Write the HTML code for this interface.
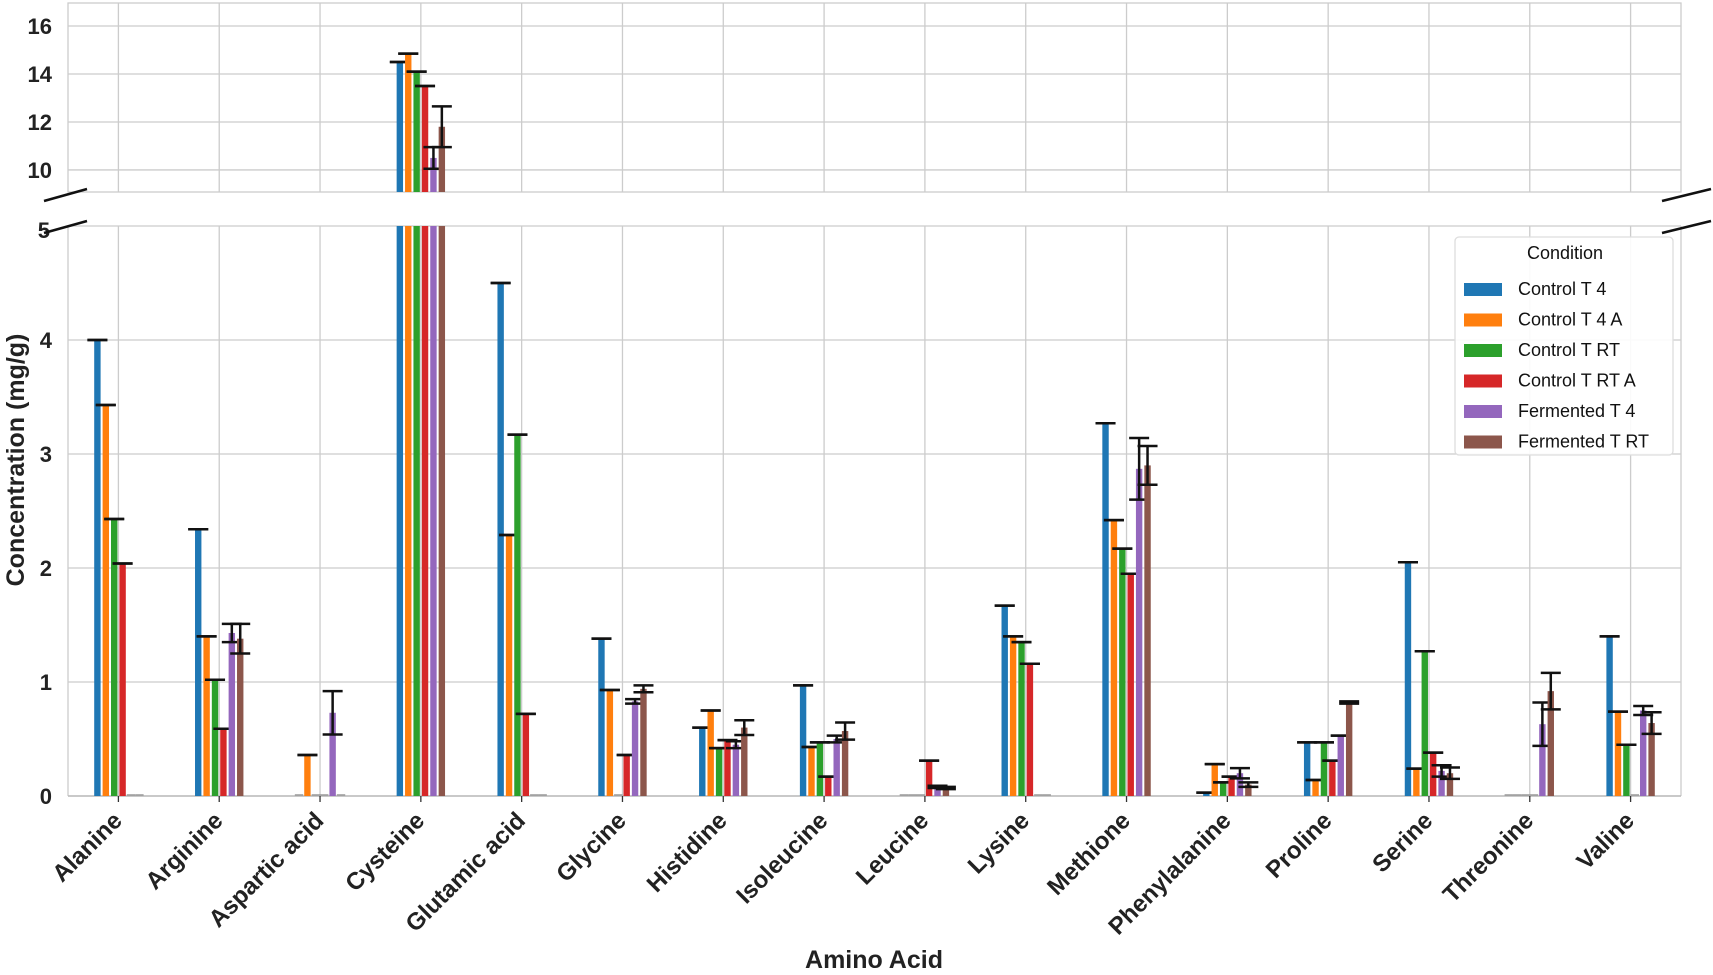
<!DOCTYPE html>
<html><head><meta charset="utf-8"><style>
html,body{margin:0;padding:0;background:#fff;}
svg{display:block;font-family:"Liberation Sans",Arial,sans-serif;}
</style></head><body>
<svg id="chart" width="1713" height="975" viewBox="0 0 1713 975" xmlns="http://www.w3.org/2000/svg"></svg>
<script>
const categories=["Alanine","Arginine","Aspartic acid","Cysteine","Glutamic acid","Glycine","Histidine","Isoleucine","Leucine","Lysine","Methione","Phenylalanine","Proline","Serine","Threonine","Valine"];
const seriesNames=["Control T 4","Control T 4 A","Control T RT","Control T RT A","Fermented T 4","Fermented T RT"];
const seriesColors=["#1f77b4","#ff7f0e","#2ca02c","#d62728","#9467bd","#8c564b"];
const controlT4=[4.0,2.34,0,14.5,4.5,1.38,0.60,0.97,0,1.67,3.27,0.03,0.47,2.05,0,1.40];
const controlT4A=[3.43,1.40,0.36,14.85,2.29,0.93,0.75,0.43,0,1.40,2.42,0.28,0.14,0.24,0,0.74];
const controlTRT=[2.43,1.02,0,14.1,3.17,0,0.42,0.47,0,1.35,2.17,0.12,0.47,1.27,0,0.45];
const controlTRTA=[2.04,0.59,0,13.5,0.72,0.36,0.49,0.17,0.31,1.16,1.95,0.17,0.31,0.38,0,0];
const fermentedT4=[0,1.43,0.73,10.5,0,0.83,0.45,0.50,0.08,0,2.87,0.20,0.53,0.22,0.63,0.75];
const fermentedTRT=[0,1.38,0,11.8,0,0.94,0.60,0.57,0.07,0,2.90,0.10,0.82,0.20,0.92,0.64];
const fermentedT4Err=[0,0.08,0.19,0.45,0,0.02,0.03,0.03,0.01,0,0.27,0.045,0,0.05,0.19,0.04];
const fermentedTRTErr=[0,0.13,0,0.85,0,0.03,0.065,0.075,0.01,0,0.17,0.02,0.01,0.05,0.16,0.095];
const yTicksTop=[10,12,14,16];
const yTicksBottom=[0,1,2,3,4,5];
const series=[controlT4,controlT4A,controlTRT,controlTRTA,fermentedT4,fermentedTRT];
const errs=[null,null,null,null,fermentedT4Err,fermentedTRTErr];

const NS="http://www.w3.org/2000/svg";
const svg=document.getElementById('chart');
function el(tag,attrs,parent){const e=document.createElementNS(NS,tag);for(const k in attrs)e.setAttribute(k,attrs[k]);(parent||svg).appendChild(e);return e;}
const L=68,R=1681;
const topP={y0:3,y1:192,min:9.08,max:16.96};
const botP={y0:226,y1:796,min:0,max:5};
const unit=(R-L)/categories.length;
function x(i){return L+unit*(i+0.5);}
function yTop(v){return topP.y1-(v-topP.min)/(topP.max-topP.min)*(topP.y1-topP.y0);}
function yBot(v){return botP.y1-(v-botP.min)/(botP.max-botP.min)*(botP.y1-botP.y0);}
const grid="#cccccc";
[topP,botP].forEach((p,pi)=>{
  for(let i=0;i<categories.length;i++){
    const g=el('line',{x1:x(i),x2:x(i),y1:p.y0,y2:p.y1,stroke:grid,'stroke-width':1.3});
    
    
  }
});
yTicksTop.forEach(t=>{
  const g=el('line',{x1:L,x2:R,y1:yTop(t),y2:yTop(t),stroke:grid,'stroke-width':1.3});
  
  
  const tx=el('text',{x:52,y:yTop(t)+8,'text-anchor':'end','font-size':22,'font-weight':'bold',fill:'#222'});
  tx.textContent=t;
  
  
});
yTicksBottom.forEach(t=>{
  const g=el('line',{x1:L,x2:R,y1:yBot(t),y2:yBot(t),stroke:grid,'stroke-width':1.3});
  
  
  const tx=el('text',{x:t==5?50:52,y:yBot(t)+8+(t==5?4:0),'text-anchor':'end','font-size':22,'font-weight':'bold',fill:'#222'});
  tx.textContent=t;
  
  
});
el('rect',{x:L,y:topP.y0,width:R-L,height:topP.y1-topP.y0,fill:'none',stroke:grid,'stroke-width':1.3});
el('line',{x1:L,x2:L,y1:botP.y0,y2:botP.y1,stroke:grid,'stroke-width':1.3});
el('line',{x1:R,x2:R,y1:botP.y0,y2:botP.y1,stroke:grid,'stroke-width':1.3});
el('line',{x1:L,x2:R,y1:botP.y1,y2:botP.y1,stroke:'#bbb','stroke-width':1.5});
const groupW=unit*0.5, bw=groupW/6;
series.forEach((vals,s)=>{
  vals.forEach((v,i)=>{
    const bx=x(i)-groupW/2+s*bw;
    const cx=bx+bw/2;
    const vb=Math.min(v,botP.max);
    const hb=yBot(0)-yBot(vb);
    const r=el('rect',{x:bx+1,y:yBot(vb),width:bw-2,height:Math.max(hb,0),fill:seriesColors[s]});
    
    
    if(v===0){el('line',{x1:bx,x2:bx+bw,y1:yBot(0)-1,y2:yBot(0)-1,stroke:'#999','stroke-width':1.5});}
    if(v>topP.min){
      const r2=el('rect',{x:bx+1,y:yTop(v),width:bw-2,height:topP.y1-yTop(v),fill:seriesColors[s]});
      
      
    }
    const e=errs[s]?errs[s][i]:0;
    if(v>0){
      const big=v>botP.max;
      const yf=big?yTop:yBot;
      const lo=v-e, hi=v+e;
      if(e>0) el('line',{x1:cx,x2:cx,y1:yf(lo),y2:yf(hi),stroke:'#111','stroke-width':2.5});
      [lo,hi].forEach(q=>{
        const c=el('line',{x1:cx-10,x2:cx+10,y1:yf(q),y2:yf(q),stroke:'#111','stroke-width':2.5});
        
        
      });
    }
  });
});
categories.forEach((c,i)=>{
  el('line',{x1:x(i),x2:x(i),y1:botP.y1,y2:botP.y1+6,stroke:'#333','stroke-width':1.3});
  const t=el('text',{x:x(i)+5,y:botP.y1+26,'text-anchor':'end','font-size':24,'font-weight':'bold',fill:'#222',transform:`rotate(-45 ${x(i)+5} ${botP.y1+26})`});
  t.textContent=c;
  
  
});
[[44,201,87,189],[44,233,87,221],[1662,201,1711,189],[1662,233,1711,221]].forEach(b=>{
  const m=el('line',{x1:b[0],y1:b[1],x2:b[2],y2:b[3],stroke:'#111','stroke-width':2.5});
  
  
});
const yt=el('text',{x:24,y:460,'text-anchor':'middle','font-size':25,'font-weight':'bold',fill:'#222',transform:'rotate(-90 24 460)'});
yt.textContent='Concentration (mg/g)';


const xt=el('text',{x:874,y:968,'text-anchor':'middle','font-size':25,'font-weight':'bold',fill:'#222'});
xt.textContent='Amino Acid';


const lg=el('g',{});


el('rect',{x:1455,y:237,width:218,height:218,rx:4,fill:'#fff','fill-opacity':0.9,stroke:'#ddd','stroke-width':1.3},lg);
const lt=el('text',{x:1565,y:259,'text-anchor':'middle','font-size':18,fill:'#111'},lg);
lt.textContent='Condition';
seriesNames.forEach((n,s)=>{
  const yy=289+s*30.5;
  const p=el('rect',{x:1464,y:yy-6,width:38,height:13,fill:seriesColors[s]},lg);
  
  
  const t=el('text',{x:1518,y:yy+6,'font-size':18,fill:'#111'},lg);
  t.textContent=n;
  
  
});
</script>
</body></html>
